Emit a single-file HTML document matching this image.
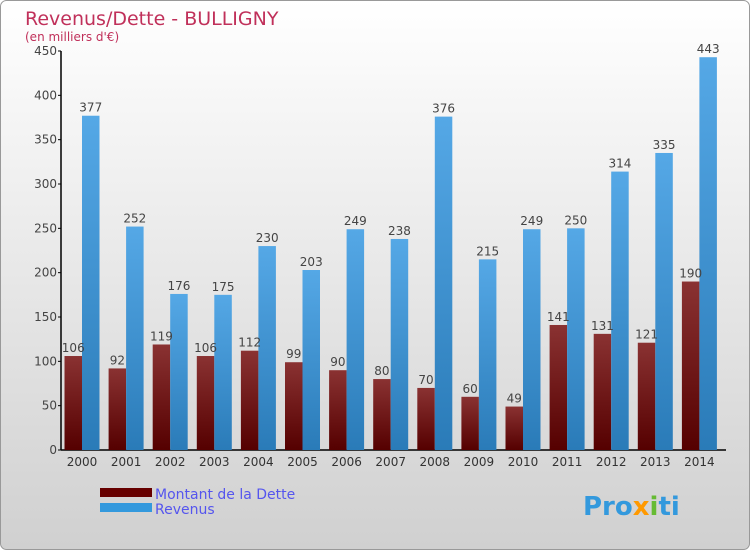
<!DOCTYPE html>
<html><head><meta charset="utf-8"><style>
body{margin:0}
#c{width:750px;height:550px;position:relative;overflow:hidden;font-family:"DejaVu Sans","Liberation Sans",sans-serif}
</style></head><body>
<div id="c">
<svg id="s" width="750" height="550" xmlns="http://www.w3.org/2000/svg">
<defs>
<linearGradient id="bg" x1="0" y1="0" x2="0" y2="1"><stop offset="0" stop-color="#ffffff"/><stop offset="1" stop-color="#d0d0d0"/></linearGradient>
<linearGradient id="gd" x1="0" y1="0" x2="0" y2="1"><stop offset="0" stop-color="#8a3232"/><stop offset="1" stop-color="#550000"/></linearGradient>
<linearGradient id="gr" x1="0" y1="0" x2="0" y2="1"><stop offset="0" stop-color="#55a8e6"/><stop offset="1" stop-color="#2a7bb8"/></linearGradient>
</defs>
<rect x="0.5" y="0.5" width="749" height="549" rx="6" fill="url(#bg)" stroke="#999"/>
<text x="25" y="25" font-size="19" fill="#c0305a">Revenus/Dette - BULLIGNY</text>
<text x="25" y="41" font-size="12" fill="#c0305a">(en milliers d'€)</text>
<g id="axes"></g>
<g id="bars"></g>
<rect x="100" y="488" width="52" height="9" fill="#660000"/>
<rect x="100" y="503" width="52" height="9" fill="#3399dd"/>
<text x="155" y="499" font-size="14" fill="#5555ee">Montant de la Dette</text>
<text x="155" y="514" font-size="14" fill="#5555ee">Revenus</text>
<text x="583" y="515" font-size="26" font-weight="bold" fill="#3399dd">Pro<tspan fill="#ff9900">x</tspan><tspan fill="#66bb33">i</tspan>ti</text>
</svg>
</div>
<script>
const years=["2000","2001","2002","2003","2004","2005","2006","2007","2008","2009","2010","2011","2012","2013","2014"];
const dette=[106,92,119,106,112,99,90,80,70,60,49,141,131,121,190];
const revenus=[377,252,176,175,230,203,249,238,376,215,249,250,314,335,443];
const yTicks=[0,50,100,150,200,250,300,350,400,450];
const NS="http://www.w3.org/2000/svg";
const y0=450,yTop=51,yMax=450;
function Y(v){return y0-(y0-yTop)*v/yMax;}
function X(i){return 64.5+44.1*i;}
const bw=17.5;
function mk(t,a,txt){const e=document.createElementNS(NS,t);for(const k in a)e.setAttribute(k,a[k]);if(txt!=null)e.textContent=txt;return e;}
const ax=document.getElementById('axes'),bg=document.getElementById('bars');
const yl=mk('line',{x1:61,y1:Y(yMax),x2:61,y2:y0,stroke:'#000','stroke-width':1.5});


ax.appendChild(yl);
const xl=mk('line',{x1:61,y1:y0,x2:X(years.length),y2:y0,stroke:'#000','stroke-width':1.5});


ax.appendChild(xl);
yTicks.forEach(v=>{
 const t=mk('line',{x1:58,y1:Y(v),x2:61,y2:Y(v),stroke:'#000'});
 
 
 ax.appendChild(t);
 const l=mk('text',{x:57,y:Y(v)+4,'font-size':12,fill:'#444','text-anchor':'end'},v);
 
 
 ax.appendChild(l);
});
years.forEach((yr,i)=>{
 const x=X(i);
 const l=mk('text',{x:x+bw,y:466,'font-size':12,fill:'#333','text-anchor':'middle'},yr);
 
 
 ax.appendChild(l);
 const d=mk('rect',{x:x,y:Y(dette[i]),width:bw,height:y0-Y(dette[i]),fill:'url(#gd)'});
 
 
 bg.appendChild(d);
 const r=mk('rect',{x:x+bw,y:Y(revenus[i]),width:bw,height:y0-Y(revenus[i]),fill:'url(#gr)'});
 
 
 bg.appendChild(r);
 const dl=mk('text',{x:x+bw/2,y:Y(dette[i])-4,'font-size':12,fill:'#444','text-anchor':'middle'},dette[i]);
 
 
 bg.appendChild(dl);
 const rl=mk('text',{x:x+bw*1.5,y:Y(revenus[i])-4,'font-size':12,fill:'#444','text-anchor':'middle'},revenus[i]);
 
 
 bg.appendChild(rl);
});
</script>
</body></html>
